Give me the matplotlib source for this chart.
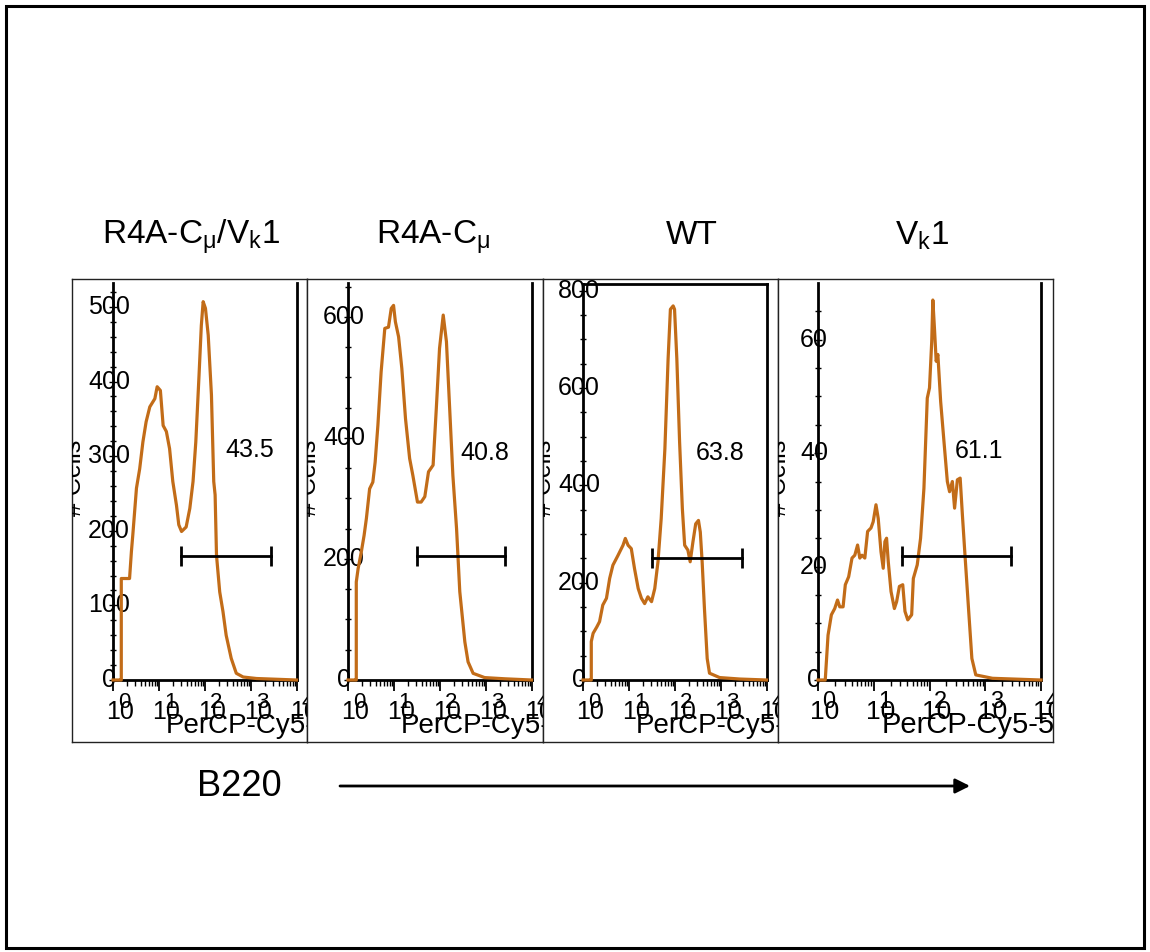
import matplotlib
matplotlib.use("Agg")
import matplotlib.pyplot as plt
import numpy as np
from matplotlib.patches import Rectangle
from matplotlib.ticker import FixedLocator

plt.rcParams['font.family'] = ['Liberation Sans', 'DejaVu Sans']
plt.rcParams['mathtext.fontset'] = 'custom'
plt.rcParams['mathtext.rm'] = 'Liberation Sans'

# ---- data (x in decades of PerCP-Cy5-5 intensity, y = # cells) ----
titles = [r'R4A-C$_\mathrm{\mu}$/V$_\mathrm{k}$1', r'R4A-C$_\mathrm{\mu}$', 'WT', r'V$_\mathrm{k}$1']

p1_dec = [0, 0.14, 0.18, 0.18, 0.36, 0.40, 0.43, 0.51, 0.58, 0.65, 0.72, 0.80, 0.91, 0.96,
          1.03, 1.09, 1.16, 1.23, 1.30, 1.38, 1.43, 1.49, 1.59, 1.67, 1.74, 1.80, 1.87,
          1.92, 1.96, 2.01, 2.07, 2.14, 2.19, 2.22, 2.25, 2.32, 2.39, 2.46, 2.57, 2.68,
          2.83, 3.12, 3.99]
p1_cnt = [0, 0, 0, 136, 136, 172, 194, 257, 283, 319, 346, 366, 377, 393,
          388, 341, 333, 310, 266, 234, 208, 199, 205, 230, 266, 319, 408,
          475, 507, 498, 462, 382, 266, 248, 167, 118, 92, 60, 29, 9,
          4, 2, 0]

p2_dec = [0, 0.15, 0.18, 0.18, 0.22, 0.29, 0.35, 0.40, 0.47, 0.54, 0.59, 0.65, 0.72, 0.80,
          0.88, 0.94, 0.99, 1.03, 1.10, 1.17, 1.25, 1.34, 1.41, 1.51, 1.59, 1.67, 1.75,
          1.85, 1.92, 1.99, 2.07, 2.14, 2.21, 2.28, 2.36, 2.43, 2.54, 2.61, 2.72, 2.97,
          3.41, 3.99]
p2_cnt = [0, 0, 0, 162, 184, 212, 239, 267, 316, 327, 360, 421, 509, 581,
          583, 614, 619, 592, 567, 515, 432, 366, 338, 294, 294, 303, 344,
          355, 449, 548, 603, 559, 449, 338, 250, 146, 63, 30, 11, 4,
          2, 0]

p3_dec = [0, 0.15, 0.18, 0.18, 0.22, 0.30, 0.36, 0.43, 0.51, 0.58, 0.65, 0.76, 0.87, 0.92,
          0.98, 1.05, 1.12, 1.20, 1.27, 1.34, 1.41, 1.49, 1.56, 1.63, 1.70, 1.78, 1.85,
          1.90, 1.96, 1.99, 2.04, 2.10, 2.16, 2.21, 2.28, 2.33, 2.39, 2.45, 2.51, 2.55,
          2.59, 2.64, 2.70, 2.75, 2.97, 3.41, 3.99]
p3_cnt = [0, 0, 0, 79, 96, 109, 120, 154, 168, 209, 236, 256, 277, 291,
          277, 270, 229, 188, 168, 157, 171, 161, 188, 243, 332, 475, 660,
          762, 769, 762, 660, 489, 352, 277, 267, 243, 284, 321, 328, 304,
          243, 147, 44, 14, 5, 2, 0]

p4_dec = [0, 0.13, 0.18, 0.24, 0.30, 0.35, 0.39, 0.45, 0.49, 0.55, 0.61, 0.66, 0.71, 0.75,
          0.79, 0.84, 0.89, 0.95, 0.99, 1.04, 1.08, 1.13, 1.17, 1.20, 1.23, 1.26, 1.31,
          1.37, 1.41, 1.46, 1.52, 1.56, 1.61, 1.68, 1.71, 1.78, 1.84, 1.90, 1.96, 2.00,
          2.04, 2.06, 2.09, 2.12, 2.15, 2.20, 2.26, 2.32, 2.36, 2.41, 2.45, 2.50, 2.55,
          2.59, 2.64, 2.70, 2.76, 2.83, 3.13, 4.0]
p4_cnt = [0, 0, 7.9, 11.5, 12.6, 14.1, 12.9, 12.9, 16.8, 18.2, 21.5, 22, 23.8, 21.5,
          22, 21.5, 26.2, 26.8, 27.9, 30.9, 28.5, 22.6, 19.7, 24.4, 25, 20.9, 15.6,
          12.6, 13.8, 16.5, 16.8, 12.1, 10.6, 11.5, 17.9, 20.3, 25, 33.8, 49.7, 51.5,
          59.7, 67, 61.8, 56.2, 57.4, 49.1, 42, 35, 33.2, 35, 30.3, 35.3, 35.6,
          29.1, 21.5, 12.6, 3.8, 0.9, 0.3, 0]

decs = [p1_dec, p2_dec, p3_dec, p4_dec]
cnts = [p1_cnt, p2_cnt, p3_cnt, p4_cnt]

y_max = [532, 656, 814, 70]
y_ticks = [[0, 100, 200, 300, 400, 500], [0, 200, 400, 600], [0, 200, 400, 600, 800], [0, 20, 40, 60]]
y_minor = [20, 50, 50, 5]
x_decades = [0, 1, 2, 3, 4]

gate_lo = [30, 32, 32, 32]
gate_hi = [2690, 2570, 2880, 2950]
gate_y = [166, 205, 250, 21.9]
gate_pct = ['43.5', '40.8', '63.8', '61.1']
pct_x = [955, 955, 955, 760]
pct_y = [308, 375, 466, 40.4]

# ---- layout in pixels ----
W, H = 1150, 952
box_x = [72, 307, 543, 778, 1053]
box_top, box_bot = 279, 742
ax_lr = [(113, 297), (348, 532), (583, 767), (818, 1041)]
ax_top, ax_bot = 283, 680
orange = '#C26C18'

fig = plt.figure(figsize=(W / 100, H / 100), dpi=100)

def rect(x0, y0, x1, y1):
    return [x0 / W, 1 - y1 / H, (x1 - x0) / W, (y1 - y0) / H]

for i in range(4):
    fs_x = 21 if i == 3 else 20   # the last panel is drawn a little wider

    box = fig.add_axes(rect(box_x[i], box_top, box_x[i + 1], box_bot))
    box.set_xticks([])
    box.set_yticks([])
    for s in box.spines.values():
        s.set_linewidth(1.0)
        s.set_color('#222222')

    L, R = ax_lr[i]
    top = ax_top + (1 if i == 2 else 0)
    ax = fig.add_axes(rect(L, top, R, ax_bot))
    ax.patch.set_alpha(0)
    ax.set_xscale('log')
    ax.set_xlim(1, 1e4)
    ax.set_ylim(0, y_max[i])
    for s in ['left', 'bottom', 'right', 'top']:
        ax.spines[s].set_linewidth(2)
        ax.spines[s].set_color('black')
    ax.spines['top'].set_visible(i == 2)

    x = 10 ** np.array(decs[i])
    ax.plot(x, cnts[i], color=orange, lw=2.3, clip_on=False, zorder=5)

    ax.plot([gate_lo[i], gate_hi[i]], [gate_y[i], gate_y[i]], color='black', lw=2,
            marker='|', ms=15, mew=2, zorder=6)
    ax.text(pct_x[i], pct_y[i], gate_pct[i], fontsize=18, ha='center', va='center')

    # ticks
    majors = [10.0 ** k for k in x_decades]
    minors = [m * 10.0 ** k for k in x_decades[:-1] for m in range(2, 10)]
    ax.xaxis.set_major_locator(FixedLocator(majors))
    ax.xaxis.set_minor_locator(FixedLocator(minors))
    ax.tick_params(axis='x', which='major', length=8, width=1.3, direction='out',
                   labelbottom=False)
    ax.tick_params(axis='x', which='minor', length=4, width=1.0, direction='out',
                   labelbottom=False)
    ax.yaxis.set_major_locator(FixedLocator(y_ticks[i]))
    ax.yaxis.set_minor_locator(FixedLocator(np.arange(0, y_max[i], y_minor[i])))
    ax.tick_params(axis='y', which='major', length=6, width=1.0, direction='inout', labelleft=False)
    ax.tick_params(axis='y', which='minor', length=5, width=1.0, direction='inout')

    for v in y_ticks[i]:
        ax.annotate(str(v), xy=(0, v), xycoords=('axes fraction', 'data'), xytext=(-4, 0),
                    textcoords='offset pixels', ha='center', va='center', fontsize=18,
                    annotation_clip=False)

    for k, xv in zip(x_decades, majors):
        for txt, dx, dy, fs in [('10', 7, -32, fs_x - 2), (str(k), 11, -22, fs_x - 4)]:
            t = ax.annotate(txt, xy=(xv, 0), xycoords='data', xytext=(dx, dy),
                            textcoords='offset pixels', ha='center', va='center',
                            fontsize=fs, annotation_clip=False)
            t.set_clip_box(box.bbox)
            t.set_clip_on(True)

    t = ax.annotate('PerCP-Cy5-5-A', xy=(0.285, 0), xycoords='axes fraction', xytext=(0, -53),
                    textcoords='offset pixels', ha='left', va='baseline', fontsize=fs_x,
                    annotation_clip=False)
    t.set_clip_box(box.bbox)
    t.set_clip_on(True)

    t = ax.annotate('# Cells', xy=(0, 0.51), xycoords='axes fraction', xytext=(-27, 0),
                    textcoords='offset pixels', rotation=90, ha='right', va='center',
                    fontsize=18, annotation_clip=False)
    t.set_clip_box(box.bbox)
    t.set_clip_on(True)

# overlay for titles, arrow and frame
ov = fig.add_axes([0, 0, 1, 1])
ov.set_xlim(0, W)
ov.set_ylim(H, 0)
ov.axis('off')
ov.patch.set_alpha(0)
ov.add_patch(Rectangle((6, 6), W - 12, H - 10, fill=False, lw=2.2, ec='black'))

title_x = [191, 433, 692, 922]
for tx, tt in zip(title_x, titles):
    ov.text(tx, 244, tt, ha='center', va='baseline', fontsize=24)

ov.text(197, 796, 'B220', ha='left', va='baseline', fontsize=26)
ov.annotate('', xy=(970, 786), xytext=(340, 786),
            arrowprops=dict(arrowstyle='-|>', lw=2, color='black', mutation_scale=22,
                            shrinkA=0, shrinkB=0))

fig.savefig('out.png', dpi=100)
